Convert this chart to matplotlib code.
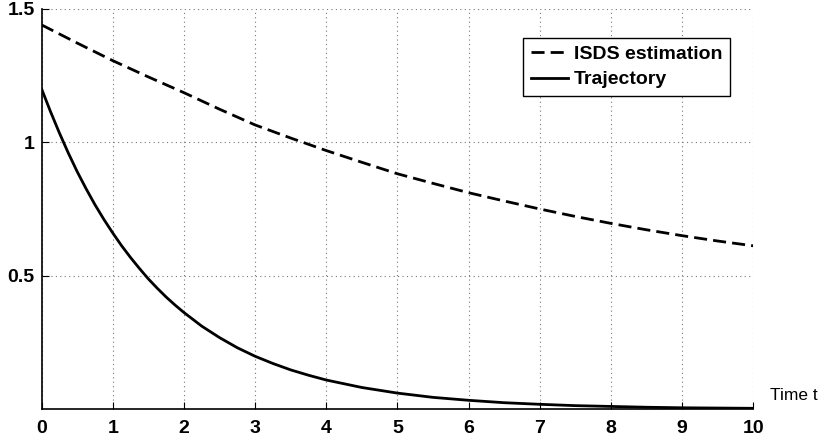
import matplotlib
matplotlib.use("Agg")
from matplotlib import pyplot as plt

# values
t_isds = [0, 0.5, 1, 1.5, 2, 2.5, 3, 3.5, 4, 4.5, 5, 5.5, 6, 6.5, 7, 7.5, 8, 8.5, 9, 9.5, 10]
isds = [1.44, 1.372, 1.306, 1.245, 1.186, 1.124, 1.065, 1.016, 0.969, 0.925, 0.882,
        0.846, 0.811, 0.78, 0.75, 0.722, 0.696, 0.672, 0.65, 0.63, 0.612]

t_traj = [0, 0.125, 0.25, 0.375, 0.5, 0.625, 0.75, 0.875, 1, 1.125, 1.25, 1.375, 1.5,
          1.625, 1.75, 1.875, 2, 2.25, 2.5, 2.75, 3, 3.25, 3.5, 3.75, 4, 4.5,
          5, 5.5, 6, 6.5, 7, 7.5, 8, 8.5, 9, 9.5, 10]
traj = [1.20, 1.115, 1.035, 0.96, 0.89, 0.826, 0.766, 0.711, 0.66, 0.612, 0.568, 0.527,
        0.488, 0.453, 0.42, 0.39, 0.362, 0.311, 0.268, 0.230, 0.198, 0.171, 0.147,
        0.127, 0.109, 0.081, 0.06, 0.044, 0.033, 0.024, 0.018, 0.013, 0.01, 0.007,
        0.005, 0.004, 0.003]

x_ticks = list(range(0, 11))
y_ticks = [0.5, 1, 1.5]
y_labels = ["0.5", "1", "1.5"]

plt.rcParams["font.family"] = ["Liberation Sans", "DejaVu Sans"]

fig = plt.figure(figsize=(8.19, 4.40), dpi=100)
ax = fig.add_axes([0.0508, 0.0702, 0.869, 0.9096])

ax.plot(t_isds, isds, color="black", lw=2, dashes=(4.7, 2.2), label="ISDS estimation")
ax.plot(t_traj, traj, color="black", lw=2, label="Trajectory")

ax.set_xlim(0, 10)
ax.set_ylim(0, 1.5)
ax.set_xticks(x_ticks)
ax.set_xticklabels([str(v) for v in x_ticks], fontweight="bold", fontsize=14)
ax.set_yticks(y_ticks)
ax.set_yticklabels(y_labels, fontweight="bold", fontsize=14)
ax.tick_params(direction="in", length=5, width=0.8)
ax.tick_params(axis="x", pad=8)
ax.tick_params(axis="y", pad=5)

ax.grid(True, linestyle=(0, (1, 3)), color="#777777", lw=0.8)
for s in ["top", "right"]:
    ax.spines[s].set_visible(False)
for s in ["left", "bottom"]:
    ax.spines[s].set_linewidth(1.2)

leg = ax.legend(loc="upper right", bbox_to_anchor=(0.967, 0.928), borderaxespad=0,
                prop={"weight": "bold", "size": 14}, fancybox=False, framealpha=1,
                edgecolor="black", handlelength=1.9, handletextpad=0.3,
                labelspacing=0.4, borderpad=0.4)
leg.get_frame().set_linewidth(1.0)

ax.text(1.0235, 0.035, "Time t", transform=ax.transAxes, ha="left", va="center",
        fontsize=12.5, clip_on=False)

fig.savefig("out.png", dpi=100)
